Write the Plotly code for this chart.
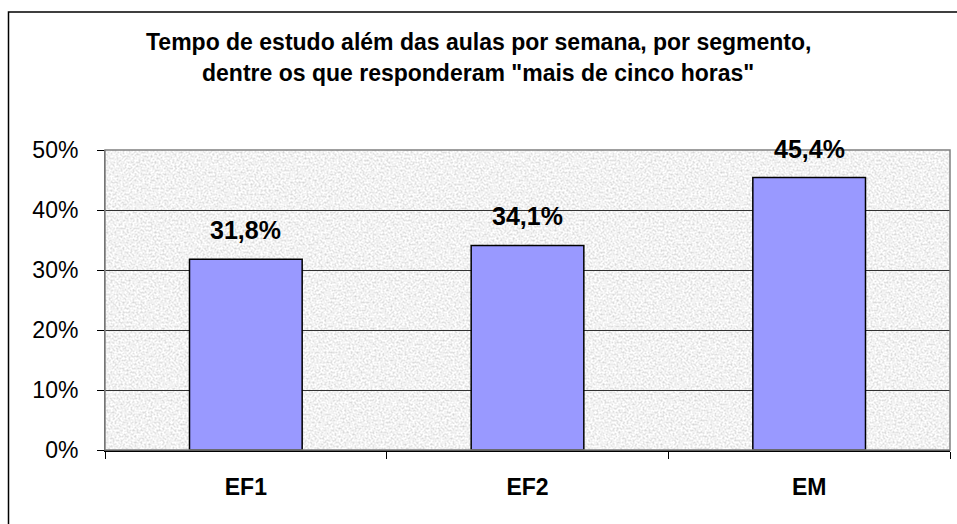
import plotly.graph_objects as go
import urllib.parse

categories = ["EF1", "EF2", "EM"]
values = [0.318, 0.341, 0.454]
title_lines = [
    "Tempo de estudo além das aulas por semana, por segmento,",
    'dentre os que responderam "mais de cinco horas"',
]
y_ticks = [0, 0.1, 0.2, 0.3, 0.4, 0.5]
y_tick_labels = ["0%", "10%", "20%", "30%", "40%", "50%"]

W, H = 957, 524
L, R, T, B = 105, 7, 150, 74
pw, ph = W - L - R, H - T - B

def px_x(x):
    return (x - L) / pw

def px_y(y):
    return (H - B - y) / ph

FONT = "Liberation Sans, Arial, sans-serif"

fig = go.Figure()
fig.add_trace(go.Bar(
    x=categories, y=values,
    marker=dict(color="#9999FF", line=dict(color="black", width=1.5)),
    width=0.4, hoverinfo="skip",
))

# data labels
for c, v in zip(categories, values):
    fig.add_annotation(
        x=c, y=v, xref="x", yref="y",
        text="<b>" + f"{v*100:.1f}".replace(".", ",") + "%</b>",
        showarrow=False, yanchor="bottom", yshift=13,
        font=dict(family=FONT, size=25, color="black"),
    )

# title
for line, ypix in zip(title_lines, [42, 73]):
    fig.add_annotation(
        x=px_x(478), y=px_y(ypix), xref="paper", yref="paper",
        text="<b>" + line + "</b>", showarrow=False,
        xanchor="center", yanchor="middle",
        font=dict(family=FONT, size=23, color="black"),
    )

# textured background via SVG noise
svg = (
    f"<svg xmlns='http://www.w3.org/2000/svg' width='{pw}' height='{ph}'>"
    "<filter id='n' x='0' y='0' width='100%' height='100%'>"
    "<feTurbulence type='fractalNoise' baseFrequency='0.5' numOctaves='3' seed='7'/>"
    "<feColorMatrix type='matrix' values='0.7 0 0 0 0.54  0.7 0 0 0 0.54  0.7 0 0 0 0.54  0 0 0 0 1'/>"
    "</filter>"
    f"<rect width='{pw}' height='{ph}' fill='#e8e8e8'/>"
    f"<rect width='{pw}' height='{ph}' filter='url(#n)'/>"
    "</svg>"
)
src = "data:image/svg+xml;charset=utf-8," + urllib.parse.quote(svg)
fig.add_layout_image(
    source=src, xref="paper", yref="paper", x=0, y=1,
    sizex=1, sizey=1, sizing="stretch", xanchor="left", yanchor="top",
    layer="below",
)

# plot-area border (gray) and outer chart border
fig.add_shape(type="rect", xref="paper", yref="paper", x0=0, y0=0, x1=1, y1=1,
              line=dict(color="#808080", width=1.5), layer="above")
fig.add_shape(type="rect", xref="paper", yref="paper",
              x0=px_x(8.5), y0=px_y(600), x1=px_x(1000), y1=px_y(12),
              line=dict(color="black", width=1.5))

fig.update_layout(
    width=W, height=H,
    margin=dict(l=L, r=R, t=T, b=B, pad=0),
    paper_bgcolor="white", plot_bgcolor="#e6e6e6",
    showlegend=False, bargap=0.6,
    font=dict(family=FONT, color="black"),
)
fig.update_xaxes(
    type="category", tickson="boundaries", ticks="outside", ticklen=7,
    tickcolor="black", showline=True, linecolor="black", linewidth=1.5,
    showgrid=False, tickfont=dict(family=FONT, size=23, color="black"),
    tickprefix="<b>", ticksuffix="</b>", ticklabelstandoff=16,
    range=[-0.5, 2.5],
)
fig.update_yaxes(
    range=[0, 0.5], tickvals=y_ticks, ticktext=y_tick_labels,
    ticks="outside", ticklen=7, tickcolor="black",
    showgrid=True, gridcolor="#333333", gridwidth=1,
    zeroline=False, showline=True, linecolor="#555555",
    tickfont=dict(family=FONT, size=23, color="black"),
    ticklabelstandoff=14,
)

fig.write_html(
    "out.html",
    config={"displayModeBar": False},
    post_script="document.body.style.margin='0';document.body.style.overflow='hidden';",
)
